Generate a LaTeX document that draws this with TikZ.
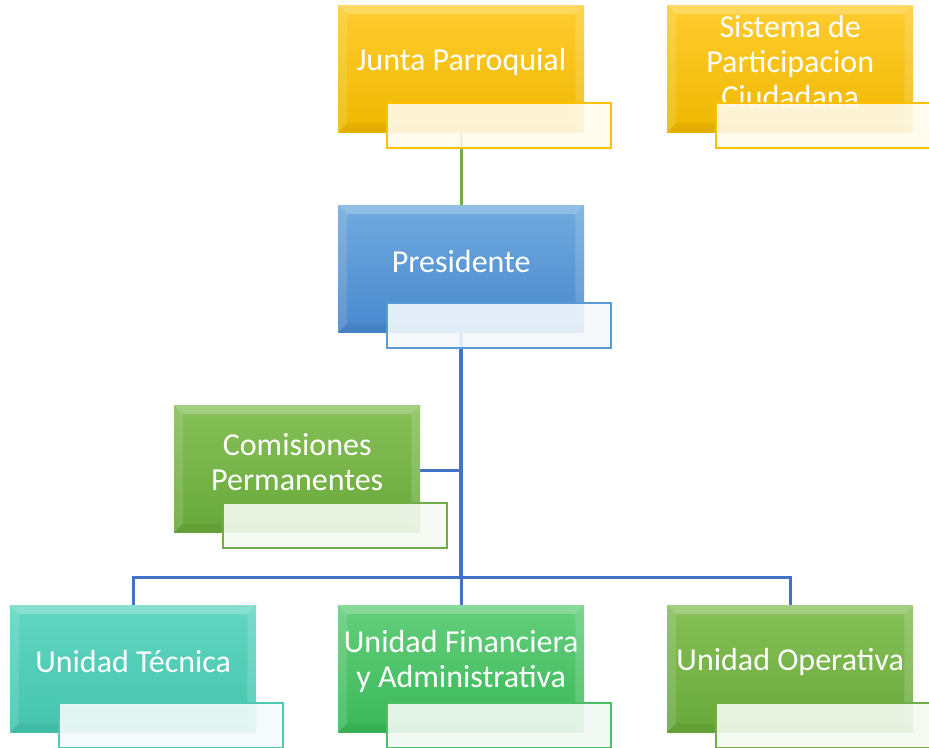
\documentclass[tikz,border=0pt]{standalone}
\usepackage{fontspec}
\setmainfont{Carlito}

\definecolor{yTop}{RGB}{255,204,48}
\definecolor{yBot}{RGB}{238,184,0}
\definecolor{yBrd}{RGB}{255,192,0}
\definecolor{bTop}{RGB}{112,170,222}
\definecolor{bBot}{RGB}{72,136,206}
\definecolor{bBrd}{RGB}{91,155,213}
\definecolor{gTop}{RGB}{134,192,88}
\definecolor{gBot}{RGB}{104,168,58}
\definecolor{gBrd}{RGB}{112,173,71}
\definecolor{tTop}{RGB}{98,214,194}
\definecolor{tBot}{RGB}{68,196,172}
\definecolor{tBrd}{RGB}{78,200,178}
\definecolor{fTop}{RGB}{100,206,124}
\definecolor{fBot}{RGB}{58,184,88}
\definecolor{fBrd}{RGB}{76,190,104}
\definecolor{lineGreen}{RGB}{112,173,71}
\definecolor{lineBlue}{RGB}{68,114,196}

\tikzset{
  mainbox/.style={rectangle, minimum width=246pt, minimum height=127pt, inner sep=0pt, anchor=north west},
  subbox/.style={rectangle, minimum width=224pt, minimum height=45pt, inner sep=0pt, anchor=north west, line width=1.6pt, fill opacity=0.9},
  lbl/.style={text=white, font=\fontsize{32}{35}\selectfont, align=center, inner sep=0pt},
  conn/.style={line width=3pt},
}

\newcommand{\orgunit}[7]{%
  \node[mainbox, top color=#4, bottom color=#5] (#1) at (#2,#3) {};
  \fill[white, opacity=0.24] (#1.north west) -- (#1.north east) -- ([shift={(-9pt,-9pt)}]#1.north east) -- ([shift={(9pt,-9pt)}]#1.north west) -- cycle;
  \fill[white, opacity=0.12] (#1.north west) -- ([shift={(9pt,-9pt)}]#1.north west) -- ([shift={(9pt,9pt)}]#1.south west) -- (#1.south west) -- cycle;
  \fill[black, opacity=0.05] (#1.south west) -- ([shift={(9pt,9pt)}]#1.south west) -- ([shift={(-9pt,9pt)}]#1.south east) -- (#1.south east) -- cycle;
  \fill[white, opacity=0.15] (#1.north east) -- ([shift={(-9pt,-9pt)}]#1.north east) -- ([shift={(-9pt,9pt)}]#1.south east) -- (#1.south east) -- cycle;
  \node[lbl] (#1t) at ([yshift=7pt]#1.center) {#7};
  \node[subbox, draw=#6, fill=#6!7!white] (#1s) at ([xshift=48pt,yshift=-97pt]#1.north west) {};
}

\begin{document}
\begin{tikzpicture}[x=1pt, y=-1pt]
\useasboundingbox (0,0) rectangle (929,747);
\clip (0,0) rectangle (929,747);

% connector end points (boxes drawn afterwards, over them)
\coordinate (jpC) at (461,132);
\coordinate (prTop) at (461,205);
\coordinate (prBot) at (461,332);
\coordinate (bar) at (461,577);
\coordinate (utTop) at (133,605);
\coordinate (ufTop) at (461,605);
\coordinate (uoTop) at (790,605);
\coordinate (cpE) at (420,470);
\coordinate (cpJ) at (461,470);

\draw[conn, lineGreen] (jpC) -- (prTop);
\draw[line width=4pt, lineBlue] (prBot) -- (bar);
\draw[conn, lineBlue] (bar) -- (ufTop);
\draw[conn, lineBlue] (utTop) |- (bar) -| (uoTop);
\draw[conn, lineBlue] (cpE) -- (cpJ);

\orgunit{jp}{338}{5}{yTop}{yBot}{yBrd}{Junta Parroquial}
\orgunit{sp}{667}{5}{yTop}{yBot}{yBrd}{Sistema de\\Participacion\\Ciudadana}
\orgunit{pr}{338}{205}{bTop}{bBot}{bBrd}{Presidente}
\orgunit{cp}{174}{405}{gTop}{gBot}{gBrd}{Comisiones\\Permanentes}
\orgunit{ut}{10}{605}{tTop}{tBot}{tBrd}{Unidad Técnica}
\orgunit{uf}{338}{605}{fTop}{fBot}{fBrd}{Unidad Financiera\\y Administrativa}
\orgunit{uo}{667}{605}{gTop}{gBot}{gBrd}{Unidad Operativa}
\end{tikzpicture}
\end{document}
